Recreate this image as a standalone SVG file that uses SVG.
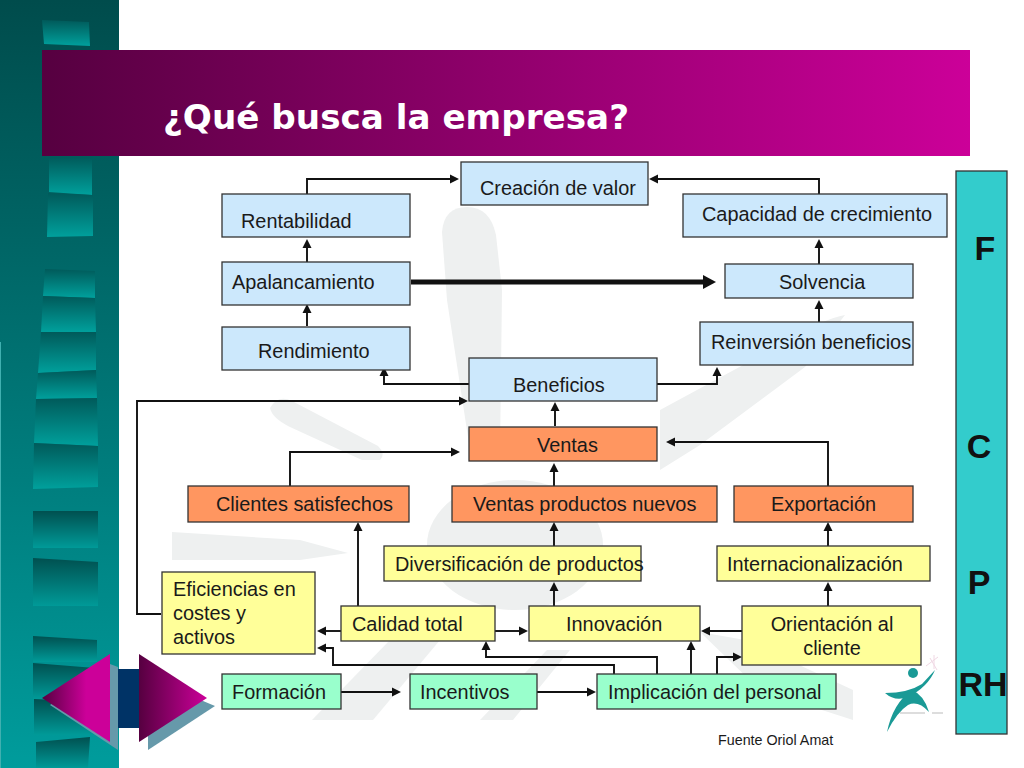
<svg xmlns="http://www.w3.org/2000/svg" width="1024" height="768" viewBox="0 0 1024 768">
<style>
text{font-family:"Liberation Sans",Arial,sans-serif;fill:#1a1a1a}
.n{font-size:19.9px}
.m{text-anchor:middle}
.b rect,.o rect,.y rect,.g rect{stroke:#333;stroke-width:1.3}
.b rect{fill:#cce8fc}
.o rect{fill:#ff9660}
.y rect{fill:#ffff99}
.g rect{fill:#99ffcc}
.c path{fill:none;stroke:#111;stroke-width:1.9;marker-end:url(#a)}
.w{fill:#eef0f0}
.l{font-size:34px;font-weight:bold;fill:#111;text-anchor:middle}
</style>
<defs>
<linearGradient id="st" x1="0" y1="0" x2="0" y2="1"><stop offset="0" stop-color="#004c4c"/><stop offset="1" stop-color="#009c9c"/></linearGradient>
<linearGradient id="pl" x1="0" y1="0" x2="0" y2="1"><stop offset="0" stop-color="#005a5a"/><stop offset="1" stop-color="#00a09c"/></linearGradient>
<linearGradient id="pd" x1="0" y1="0" x2="0" y2="1"><stop offset="0" stop-color="#005050"/><stop offset="1" stop-color="#009a98"/></linearGradient>
<linearGradient id="tb" x1="0" y1="0" x2="1" y2="0"><stop offset="0" stop-color="#560040"/><stop offset="1" stop-color="#cc0099"/></linearGradient>
<linearGradient id="al" x1="0" y1="0" x2="1" y2="0"><stop offset="0" stop-color="#560040"/><stop offset="0.65" stop-color="#cc0099"/></linearGradient>
<marker id="a" viewBox="0 0 10 10" refX="4" refY="5" markerWidth="10" markerHeight="10" markerUnits="userSpaceOnUse" orient="auto"><path d="M0 .5L9 5L0 9.5z" fill="#111"/></marker>
<marker id="ab" viewBox="0 0 14 16" refX="1" refY="8" markerWidth="14" markerHeight="16" markerUnits="userSpaceOnUse" orient="auto"><path d="M0 1L13 8L0 15z" fill="#111"/></marker>
</defs>
<rect width="1024" height="768" fill="#fff"/>
<g id="strip">
<rect x="0" y="0" width="119" height="768" fill="url(#st)"/>
<rect x="0" y="342" width="1" height="426" fill="#40b0b0"/>
<path d="M42 20L89 22L90 46L44 44z" fill="url(#pl)"/>
<path d="M49 157L92 157L92 195L49 192z" fill="url(#pl)"/>
<path d="M48 193L93 195L93 236L47 237z" fill="url(#pl)"/>
<path d="M45 269L95 271L95 298L43 296z" fill="url(#pl)"/>
<path d="M43 296L95 298L96 332L41 332z" fill="url(#pl)"/>
<path d="M41 332L96 332L96 370L38 373z" fill="url(#pl)"/>
<path d="M38 373L96 370L97 398L36 399z" fill="url(#pl)"/>
<path d="M36 399L97 398L98 446L34 443z" fill="url(#pl)"/>
<path d="M34 443L98 446L98 487L33 489z" fill="url(#pl)"/>
<path d="M33 511L98 511L98 548L33 548z" fill="url(#pd)"/>
<path d="M33 558L98 562L98 606L33 606z" fill="url(#pd)"/>
<path d="M33 636L97 640L97 662L33 662z" fill="url(#pd)"/>
<path d="M33 663L95 668L95 699L33 699z" fill="url(#pd)"/>
<path d="M34 699L95 702L95 735L34 735z" fill="url(#pd)"/>
<path d="M36 742L90 737L88 768L36 768z" fill="url(#pd)"/>
</g>
<g id="watermark">
<path class="w" d="M442 232Q444 207 467 207Q490 207 496 235L502 290L500 450L470 450L447 300z"/>
<path class="w" d="M270 408Q278 394 292 401L378 446Q386 454 380 460L362 460L290 427Q272 418 270 408z"/>
<path class="w" d="M172 532L300 540L348 553L300 560L172 560z"/>
<ellipse class="w" cx="515" cy="545" rx="88" ry="65"/>
<path class="w" d="M390 640L312 720H373L440 640z"/>
<path class="w" d="M547 650L480 720H513L570 650z"/>
<path class="w" d="M700 632L745 640L853 690V720L760 690z"/>
<path class="w" d="M845 315L805 367L700 445L660 470V410L780 345Q825 318 845 315z"/>
</g>
<g id="title">
<rect x="42" y="50" width="928" height="106" fill="url(#tb)"/>
<text x="163" y="129" style="font-family:'DejaVu Sans',sans-serif;font-size:34.2px;font-weight:bold;fill:#fff">¿Qué busca la empresa?</text>
</g>
<g id="side">
<rect x="956" y="171" width="51" height="563" fill="#33cccc" stroke="#333" stroke-width="1.3"/>
<text class="l" x="985" y="260">F</text>
<text class="l" x="979" y="458">C</text>
<text class="l" x="979" y="594">P</text>
<text class="l" x="983" y="696">RH</text>
</g>
<g id="connectors" class="c">
<path d="M307 194V179H454"/>
<path d="M819 194V179H654"/>
<path d="M307 262V244"/>
<path d="M819 264V244"/>
<path d="M819 322V305"/>
<path d="M307 326V309"/>
<path d="M411 282H704" style="stroke-width:5;marker-end:url(#ab)"/>
<path d="M469 384H384V372"/>
<path d="M657 384H717V372"/>
<path d="M555 426V407"/>
<path d="M554 486V468"/>
<path d="M290 486V452H455"/>
<path d="M828 486V442H671"/>
<path d="M554 546V527"/>
<path d="M828 546V527"/>
<path d="M358 606V527"/>
<path d="M828 606V587"/>
<path d="M554 606V587"/>
<path d="M161 614H137V401H463"/>
<path d="M341 631H322"/>
<path d="M495 631H523"/>
<path d="M742 631H706"/>
<path d="M341 692H396"/>
<path d="M537 692H591"/>
<path d="M614 674V665H333V648H322"/>
<path d="M657 674V657H486V646"/>
<path d="M691 674V646"/>
<path d="M717 674V657H737"/>
</g>
<g id="creacion" class="b"><rect x="461" y="162" width="187" height="43"/><text class="n" x="480" y="195">Creación de valor</text></g>
<g id="rentabilidad" class="b"><rect x="222" y="194" width="188" height="43"/><text class="n" x="241" y="228">Rentabilidad</text></g>
<g id="capacidad" class="b"><rect x="683" y="194" width="264" height="43"/><text class="n" x="702" y="221">Capacidad de crecimiento</text></g>
<g id="apalancamiento" class="b"><rect x="222" y="262" width="188" height="43"/><text class="n" x="232" y="289">Apalancamiento</text></g>
<g id="solvencia" class="b"><rect x="725" y="264" width="188" height="34"/><text class="n" x="779" y="289">Solvencia</text></g>
<g id="rendimiento" class="b"><rect x="222" y="327" width="188" height="43"/><text class="n" x="258" y="358">Rendimiento</text></g>
<g id="reinversion" class="b"><rect x="700" y="322" width="213" height="43"/><text class="n" x="711" y="349">Reinversión beneficios</text></g>
<g id="beneficios" class="b"><rect x="469" y="358" width="188" height="43"/><text class="n" x="513" y="392">Beneficios</text></g>
<g id="ventas" class="o"><rect x="469" y="427" width="188" height="34"/><text class="n" x="537" y="452">Ventas</text></g>
<g id="clientes" class="o"><rect x="188" y="486" width="221" height="36"/><text class="n" x="216" y="511">Clientes satisfechos</text></g>
<g id="nuevos" class="o"><rect x="452" y="486" width="265" height="36"/><text class="n" x="473" y="511">Ventas productos nuevos</text></g>
<g id="exportacion" class="o"><rect x="734" y="486" width="179" height="36"/><text class="n" x="771" y="511">Exportación</text></g>
<g id="diversificacion" class="y"><rect x="384" y="546" width="257" height="35"/><text class="n" x="395" y="571">Diversificación de productos</text></g>
<g id="internacionalizacion" class="y"><rect x="717" y="546" width="213" height="35"/><text class="n" x="727" y="571">Internacionalización</text></g>
<g id="eficiencias" class="y"><rect x="162" y="572" width="153" height="82"/><text class="n" x="173" y="596">Eficiencias en</text><text class="n" x="173" y="620">costes y</text><text class="n" x="173" y="644">activos</text></g>
<g id="calidad" class="y"><rect x="341" y="606" width="154" height="35"/><text class="n" x="352" y="631">Calidad total</text></g>
<g id="innovacion" class="y"><rect x="529" y="606" width="171" height="35"/><text class="n" x="566" y="631">Innovación</text></g>
<g id="orientacion" class="y"><rect x="742" y="606" width="179" height="59"/><text class="n m" x="832" y="631">Orientación al</text><text class="n m" x="832" y="655">cliente</text></g>
<g id="formacion" class="g"><rect x="222" y="674" width="119" height="35"/><text class="n" x="232" y="699">Formación</text></g>
<g id="incentivos" class="g"><rect x="410" y="674" width="127" height="35"/><text class="n" x="420" y="699">Incentivos</text></g>
<g id="implicacion" class="g"><rect x="597" y="674" width="239" height="35"/><text class="n" x="608" y="699">Implicación del personal</text></g>
<text x="718" y="745" style="font-size:14.3px">Fuente Oriol Amat</text>
<g id="figure">
<circle cx="913" cy="673" r="5" fill="#1a9a96"/>
<path d="M885 693Q908 693 922 684L935 670Q928 687 908 697Q895 702 885 693z" fill="#1a9a96"/>
<path d="M887 732Q893 703 912 690Q924 695 929 712Q918 700 908 705Q897 712 887 732z" fill="#1a9a96"/>
<path d="M900 713H925M932 713H943" stroke="#bbb" stroke-width="1.2"/>
<path d="M926 666L938 657M930 658L937 670M934 655V669" stroke="#f0d8e4" stroke-width="1"/>
</g>
<g id="nav">
<path d="M118 669H140V728H118z" fill="#003366"/>
<path d="M110 664L118 667V750L50 705z" fill="#6699aa"/>
<path d="M148 678L215 706L148 750z" fill="#6699aa"/>
<path d="M110 654V742L42 698z" fill="url(#al)"/>
<path d="M139 654V742L207 698z" fill="url(#tb)"/>
</g>
</svg>
